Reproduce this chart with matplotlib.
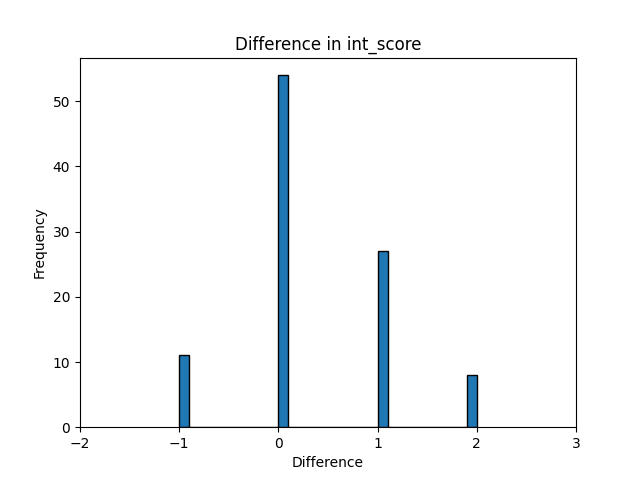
import numpy as np
import matplotlib
matplotlib.use("Agg")
import matplotlib.pyplot as plt

diff_values = [-1, 0, 1, 2]
diff_counts = [11, 54, 27, 8]

data = np.repeat(diff_values, diff_counts)

fig, ax = plt.subplots(figsize=(6.4, 4.8), dpi=100)
ax.hist(data, bins=30, edgecolor='black')
ax.set_xlim(-2, 3)
ax.set_title('Difference in int_score')
ax.set_xlabel('Difference')
ax.set_ylabel('Frequency')
fig.savefig('out.png')
